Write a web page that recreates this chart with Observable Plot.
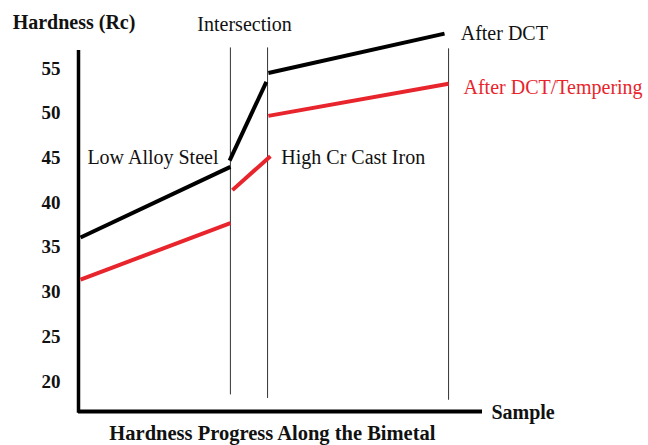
<!DOCTYPE html>
<html><head><meta charset="utf-8">
<script src="https://cdn.jsdelivr.net/npm/d3@7"></script>
<script src="https://cdn.jsdelivr.net/npm/@observablehq/plot@0.6"></script>
<style>body{margin:0;background:#fff}</style>
</head><body><div id="chart"></div>
<script>
// Position along the bimetal (arbitrary units 0..100) and hardness (Rc)
const dctX   = [0.5, 37.6, 37.4, 46.5, 47.0, 90.6];
const dctY   = [36.1, 44.0, 44.7, 53.5, 54.5, 58.9];
const dctSeg = [1, 1, 2, 2, 3, 3];
const tempX   = [0.5, 37.6, 38.1, 47.5, 47.0, 91.6];
const tempY   = [31.4, 37.7, 41.4, 45.2, 49.7, 53.3];
const tempSeg = [1, 1, 2, 2, 3, 3];
const yTicks = [20, 25, 30, 35, 40, 45, 50, 55];
const guideX = [37.6, 46.8, 91.6];
const guideTop = [57.3, 57.3, 57.2];
const guideBottom = [18.5, 18.1, 17.9];
const labelText = ["Intersection", "Low Alloy Steel", "High Cr Cast Iron", "After DCT", "After DCT/Tempering"];
const labelX = [41.1, 2.2, 50.2, 94.6, 95.3];
const labelY = [59.9, 45.0, 45.0, 58.9, 52.9];
const labelColor = ["#111", "#111", "#111", "#111", "#e8242c"];
const labelAnchor = ["middle", "start", "start", "start", "start"];
const yTitle = "Hardness (Rc)";
const xTitle = "Sample";
const chartTitle = "Hardness Progress Along the Bimetal";

const dct = dctX.map((x, i) => ({x, y: dctY[i], s: dctSeg[i]}));
const temp = tempX.map((x, i) => ({x, y: tempY[i], s: tempSeg[i]}));
const guides = guideX.map((x, i) => ({x, y1: guideTop[i], y2: guideBottom[i]}));
const labels = labelText.map((t, i) => ({t, x: labelX[i], y: labelY[i], c: labelColor[i], a: labelAnchor[i]}));

const font = "'Liberation Serif', 'Times New Roman', serif";
const plot = Plot.plot({
  width: 648, height: 445,
  marginLeft: 78, marginRight: 166, marginTop: 20, marginBottom: 35,
  style: {fontFamily: font, background: "#fff", overflow: "visible"},
  x: {domain: [0, 100], range: [78, 482], axis: null},
  y: {domain: [20, 55], range: [381, 68]},
  marks: [
    Plot.axisY(yTicks, {tickSize: 0, tickPadding: 18, fontSize: 19, fontWeight: "bold", fill: "#111", label: null}),
    Plot.ruleY([16.65], {x1: 0, x2: 100, stroke: "#000", strokeWidth: 4}),
    Plot.ruleX([0], {y1: 16.45, y2: 57.0, stroke: "#000", strokeWidth: 3.5}),
    Plot.ruleX(guides, {x: "x", y1: "y1", y2: "y2", stroke: "#333", strokeWidth: 1}),
    Plot.line(dct, {x: "x", y: "y", z: "s", stroke: "#000", strokeWidth: 4, strokeLinecap: "butt", curve: "linear"}),
    Plot.line(temp, {x: "x", y: "y", z: "s", stroke: "#e8242c", strokeWidth: 4, strokeLinecap: "butt", curve: "linear"}),
    Plot.text(labels, {x: "x", y: "y", text: "t", fill: "c", textAnchor: "start", fontSize: 20, filter: d => d.a === "start"}),
    Plot.text(labels, {x: "x", y: "y", text: "t", fill: "c", textAnchor: "middle", fontSize: 20, filter: d => d.a === "middle"}),
    Plot.text([yTitle], {x: -16.3, y: 60.1, text: d => d, textAnchor: "start", fontSize: 20, fontWeight: "bold", fill: "#111"}),
    Plot.text([xTitle], {x: 102.2, y: 16.5, text: d => d, textAnchor: "start", fontSize: 20, fontWeight: "bold", fill: "#111"}),
    Plot.text([chartTitle], {x: 48.0, y: 14.2, text: d => d, textAnchor: "middle", fontSize: 20.5, fontWeight: "bold", fill: "#111"})
  ]
});
document.getElementById("chart").append(plot);
</script>
</body></html>
